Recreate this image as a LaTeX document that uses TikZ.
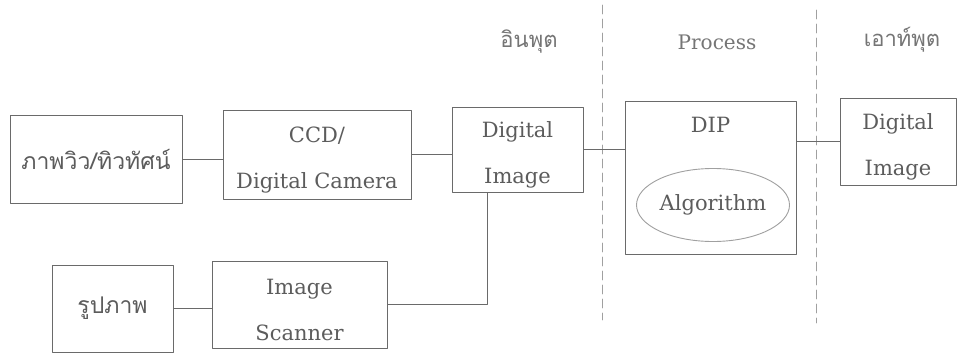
\documentclass[tikz,border=0pt]{standalone}
\usepackage{fontspec}
\setmainfont{DejaVu Serif}
\newfontfamily\thaifont[Script=Thai]{Loma}
\usetikzlibrary{positioning,calc,shapes.geometric}
\definecolor{dgInk}{HTML}{5C5C5C}
\definecolor{dgLine}{HTML}{6A6A6A}
\definecolor{dgDash}{HTML}{A0A0A0}
\tikzset{
 flowchart/.style={x=1pt,y=-1pt,line cap=round,line join=round,text=dgInk},
 blockbox/.style={rectangle,draw=dgLine,line width=.9pt,inner sep=0pt,align=center,
   font=\fontsize{21}{46}\selectfont},
 twoline/.style={blockbox,text height=72pt},
 thaibox/.style={blockbox,font=\thaifont\fontsize{23}{27}\selectfont},
 algoshape/.style={ellipse,draw=dgDash,line width=.9pt,inner sep=0pt,
   minimum width=153pt,minimum height=73pt,font=\fontsize{21}{24}\selectfont},
 wire/.style={draw=dgLine,line width=.9pt},
 divider/.style={draw=dgDash,line width=.8pt,dash pattern=on 9pt off 5pt},
 heading/.style={font=\fontsize{20}{24}\selectfont,text=dgInk!85},
 thaiheading/.style={font=\thaifont\fontsize{22}{26}\selectfont,text=dgInk!85}
}

\begin{document}
\begin{tikzpicture}[flowchart]
 \useasboundingbox[fill=white] (0,0) rectangle (964,356);
 % input side
 \node[thaibox,minimum width=172pt,minimum height=88pt] (scene) at (96,159) {ภาพวิว/ทิวทัศน์};
 \node[twoline,minimum width=188pt,minimum height=89pt] (camera) at (317,154.5) {CCD/\\Digital Camera};
 \node[twoline,minimum width=131pt,minimum height=85pt] (dimgin) at (517.5,149.5) {Digital\\Image};
 \node[thaibox,minimum width=121pt,minimum height=87pt] (photo) at (112.5,308.5) {รูปภาพ};
 \node[twoline,minimum width=175pt,minimum height=87pt] (scanner) at (299.5,304.5) {Image\\Scanner};
 % process
 \node[blockbox,minimum width=171pt,minimum height=153pt] (dip) at (710.5,177.5) {};
 \node[font=\fontsize{21}{24}\selectfont] (diptitle) at ($(dip.north)+(0,24)$) {DIP};
 \node[algoshape] (algo) at (713,205) {Algorithm};
 % output
 \node[twoline,minimum width=116pt,minimum height=87pt] (dimgout) at (898,141.5) {Digital\\Image};
 % headings and dividers
 \node[thaiheading] (inhead) at (529,42) {อินพุต};
 \node[heading] (prochead) at (717,42) {Process};
 \node[thaiheading] (outhead) at (902,40) {เอาท์พุต};
 \coordinate (cutAtop) at (602,5);  \coordinate (cutAbot) at (602,320);
 \coordinate (cutBtop) at (816,10); \coordinate (cutBbot) at (816,323);
 \draw[divider] (cutAtop) -- (cutAbot);
 \draw[divider] (cutBtop) -- (cutBbot);
 % connectors
 \draw[wire] (scene.east) -- (scene.east -| camera.west);
 \draw[wire] (camera.east) -- (camera.east -| dimgin.west);
 \draw[wire] (dimgin.east) -- (dimgin.east -| dip.west);
 \draw[wire] (dimgout.west) -- (dimgout.west -| dip.east);
 \draw[wire] (photo.east) -- (photo.east -| scanner.west);
 \draw[wire] (scanner.east) -| ([xshift=-30pt]dimgin.south);
\end{tikzpicture}
\end{document}
